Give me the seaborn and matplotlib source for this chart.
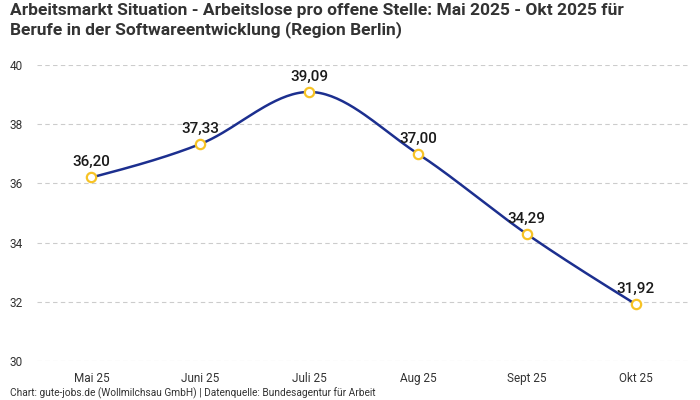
import numpy as np
import pandas as pd
import matplotlib
matplotlib.use("Agg")
import matplotlib.pyplot as plt
import seaborn as sns

months = ["Mai 25", "Juni 25", "Juli 25", "Aug 25", "Sept 25", "Okt 25"]
values = [36.20, 37.33, 39.09, 37.00, 34.29, 31.92]
y_ticks = [30, 32, 34, 36, 38, 40]
title = ("Arbeitsmarkt Situation - Arbeitslose pro offene Stelle: Mai 2025 - Okt 2025 für\n"
         "Berufe in der Softwareentwicklung (Region Berlin)")
footer = "Chart: gute-jobs.de (Wollmilchsau GmbH) | Datenquelle: Bundesagentur für Arbeit"

sns.set_theme(style="white")
plt.rcParams["font.family"] = ["Roboto", "DejaVu Sans"]

df = pd.DataFrame({"month": months, "value": values, "x": np.arange(len(months))})


def monotone_x(xs, ys, n=40):
    xs = np.asarray(xs, float); ys = np.asarray(ys, float)
    h = np.diff(xs); s = np.diff(ys) / h
    m = np.zeros_like(ys)
    for i in range(1, len(ys) - 1):
        if s[i - 1] * s[i] <= 0:
            m[i] = 0
        else:
            p = (s[i - 1] * h[i] + s[i] * h[i - 1]) / (h[i - 1] + h[i])
            m[i] = (np.sign(s[i - 1]) + np.sign(s[i])) * min(abs(s[i - 1]), abs(s[i]), 0.5 * abs(p))
    m[0] = (3 * s[0] - m[1]) / 2 if len(ys) > 2 else s[0]
    m[-1] = (3 * s[-1] - m[-2]) / 2 if len(ys) > 2 else s[-1]
    px, py = [], []
    for i in range(len(xs) - 1):
        t = np.linspace(0, 1, n)
        h00 = 2 * t**3 - 3 * t**2 + 1
        h10 = t**3 - 2 * t**2 + t
        h01 = -2 * t**3 + 3 * t**2
        h11 = t**3 - t**2
        px.append(xs[i] + t * h[i])
        py.append(h00 * ys[i] + h10 * h[i] * m[i] + h01 * ys[i + 1] + h11 * h[i] * m[i + 1])
    return np.concatenate(px), np.concatenate(py)


cx, cy = monotone_x(df["x"], df["value"])
curve = pd.DataFrame({"x": cx, "y": cy})

fig = plt.figure(figsize=(7, 4), dpi=100)
ax = fig.add_axes([37 / 700, 39 / 400, 653 / 700, 296 / 400])

sns.lineplot(data=curve, x="x", y="y", ax=ax, color="#1c2f8f", linewidth=1.8,
             sort=False, estimator=None)
sns.scatterplot(data=df, x="x", y="value", ax=ax, s=45, color="white",
                edgecolor="#f7c325", linewidth=1.6, zorder=5)

for xi, v in zip(df["x"], df["value"]):
    ax.annotate(f"{v:.2f}".replace(".", ","), (xi, v), xytext=(0, 6),
                textcoords="offset points", ha="center", va="bottom",
                fontsize=11, fontweight="medium", color="#1a1a1a", zorder=6)

ax.set_xlim(-0.5, len(months) - 0.5)
ax.set_ylim(30, 40)
ax.set_xticks(df["x"])
ax.set_xticklabels(months)
ax.set_yticks(y_ticks)
ax.set_yticklabels([str(t) for t in y_ticks])
ax.set_xlabel("")
ax.set_ylabel("")
ax.tick_params(axis="both", length=0, labelsize=8.5, colors="#333333")
ax.tick_params(axis="x", pad=8)
for lab in ax.get_yticklabels():
    lab.set_horizontalalignment("left")
ax.yaxis.set_tick_params(pad=19.5)
ax.grid(axis="y", color="#cccccc", linestyle=(0, (4, 3)), linewidth=0.8)
ax.grid(axis="x", visible=False)
for sp in ax.spines.values():
    sp.set_visible(False)

fig.text(10 / 700, 1 - 3 / 400, title, ha="left", va="top", fontsize=12.5,
         fontweight="bold", color="#333333", linespacing=1.2)
fig.text(10 / 700, 1 - 393 / 400, footer, ha="left", va="center", fontsize=7.3,
         color="#333333")

fig.savefig("out.png", dpi=100)
